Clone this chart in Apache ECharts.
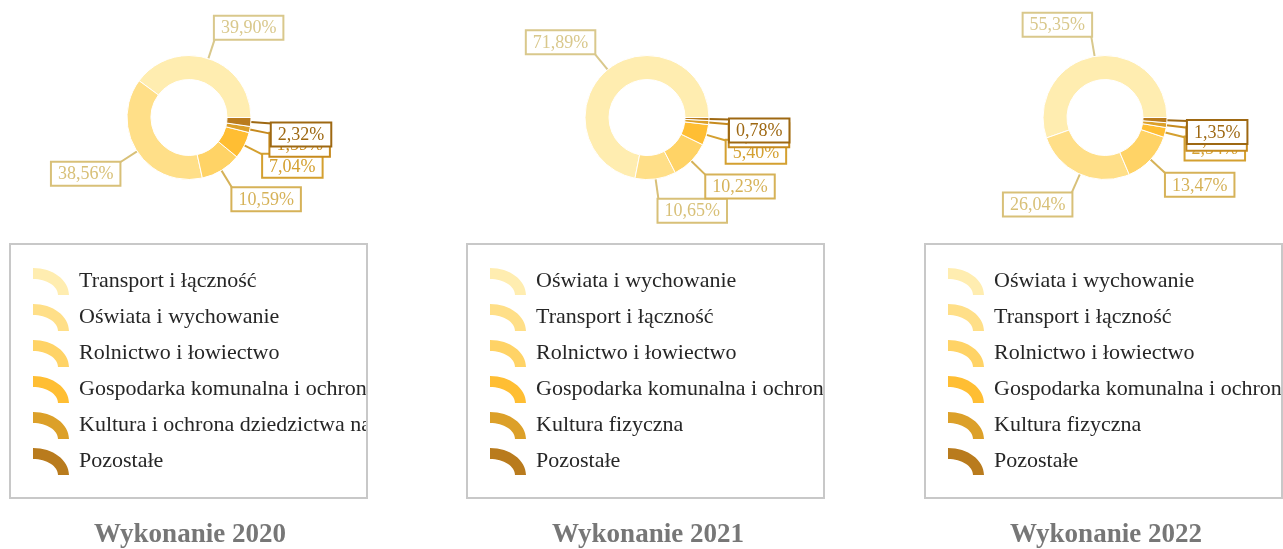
<!DOCTYPE html>
<html>
<head>
<meta charset="utf-8">
<script src="https://cdn.jsdelivr.net/npm/echarts@6/dist/echarts.min.js"></script>
<style>
html,body{margin:0;padding:0;background:#fff;}
#main{width:1283px;height:549px;}
</style>
</head>
<body>
<div id="main"></div>
<script>
var years = ['Wykonanie 2020', 'Wykonanie 2021', 'Wykonanie 2022'];

var names2020 = ['Transport i łączność', 'Oświata i wychowanie', 'Rolnictwo i łowiectwo', 'Gospodarka komunalna i ochrona środowiska', 'Kultura i ochrona dziedzictwa narodowego', 'Pozostałe'];
var values2020 = [39.90, 38.56, 10.59, 7.04, 1.59, 2.32];

var names2021 = ['Oświata i wychowanie', 'Transport i łączność', 'Rolnictwo i łowiectwo', 'Gospodarka komunalna i ochrona środowiska', 'Kultura fizyczna', 'Pozostałe'];
var values2021 = [71.89, 10.65, 10.23, 5.40, 1.05, 0.78];

var names2022 = ['Oświata i wychowanie', 'Transport i łączność', 'Rolnictwo i łowiectwo', 'Gospodarka komunalna i ochrona środowiska', 'Kultura fizyczna', 'Pozostałe'];
var values2022 = [55.35, 26.04, 13.47, 2.54, 1.25, 1.35];

var sliceColors = ['#FFEDB0', '#FFDF88', '#FFD366', '#FFBE33', '#DCA029', '#B97B1D'];
var labelColors = ['#D9C88C', '#D8C078', '#D6B258', '#D4A030', '#C68A1E', '#9E6812'];

var allNames = [names2020, names2021, names2022];
var allValues = [values2020, values2021, values2022];

var centersX = [189, 647, 1105];
var boxesX = [10, 467, 925];
var serif = '"Liberation Serif", "DejaVu Serif", serif';
var legendIcon = 'path://M0,0 C19.9,0 36,12.1 36,27 L25,27 C25,18.2 13.8,11 0,11 Z';

function fmt(v) { return v.toFixed(2).replace('.', ',') + '%'; }

function labelLayoutFn(p) {
  var pts = p.labelLinePoints;
  if (!pts) return {};
  var a = pts[0], b = pts[pts.length - 1];
  var dx = b[0] - a[0], dy = b[1] - a[1];
  return {
    x: b[0], y: b[1],
    align: dx >= 0 ? 'left' : 'right',
    verticalAlign: dy < 0 ? 'bottom' : 'top',
    labelLinePoints: pts
  };
}

var series = [], legends = [], graphics = [];
for (var s = 0; s < 3; s++) {
  var data = allNames[s].map(function (n, i) {
    return {
      name: n,
      value: allValues[s][i],
      itemStyle: { color: sliceColors[i] },
      label: { color: labelColors[i], borderColor: labelColors[i] },
      labelLine: { lineStyle: { color: labelColors[i] } }
    };
  });
  series.push({
    type: 'pie',
    center: [centersX[s], 117.5],
    radius: [38, 62],
    startAngle: 0,
    clockwise: false,
    avoidLabelOverlap: false,
    itemStyle: { borderColor: '#fff', borderWidth: 1 },
    animation: false,
    label: {
      show: true,
      position: 'outside',
      formatter: function (p) { return fmt(p.value); },
      fontFamily: serif,
      fontSize: 18,
      backgroundColor: '#fff',
      borderWidth: 2,
      padding: [3, 6, 1, 6]
    },
    labelLine: { show: true, length: 21, length2: 0, lineStyle: { width: 2 } },
    labelLayout: labelLayoutFn,
    emphasis: { disabled: true },
    data: data
  });
  legends.push({
    orient: 'vertical',
    left: boxesX[s] + 23,
    top: 268,
    padding: 0,
    itemWidth: 36,
    itemHeight: 27,
    itemGap: 9,
    icon: legendIcon,
    selectedMode: false,
    itemStyle: { borderWidth: 0, borderColor: 'transparent' },
    textStyle: {
      fontFamily: serif,
      fontSize: 22,
      lineHeight: 27,
      color: '#262626',
      padding: [0, 0, 0, 5],
      width: 300,
      overflow: 'truncate',
      ellipsis: ''
    },
    data: allNames[s].map(function (n, i) {
      return { name: n, itemStyle: { color: sliceColors[i] } };
    })
  });
  // white mask to clip legend text overflowing the box
  graphics.push({
    type: 'rect',
    z: 100,
    shape: { x: boxesX[s] + 358, y: 240, width: 98, height: 262 },
    style: { fill: '#fff' },
    silent: true
  });
  graphics.push({
    type: 'rect',
    z: 101,
    shape: { x: boxesX[s], y: 244, width: 357, height: 254 },
    style: { fill: 'none', stroke: '#C8C8C8', lineWidth: 2 },
    silent: true
  });
  graphics.push({
    type: 'text',
    x: centersX[s] + 1,
    y: 535,
    style: {
      text: years[s],
      font: 'bold 27px ' + serif,
      fill: '#777777',
      textAlign: 'center',
      textVerticalAlign: 'middle',
      align: 'center',
      verticalAlign: 'middle'
    },
    silent: true
  });
}

var chart = echarts.init(document.getElementById('main'), null, { renderer: 'canvas' });
chart.setOption({
  backgroundColor: '#fff',
  animation: false,
  tooltip: { show: false },
  legend: legends,
  series: series,
  graphic: graphics
});
</script>
</body>
</html>
